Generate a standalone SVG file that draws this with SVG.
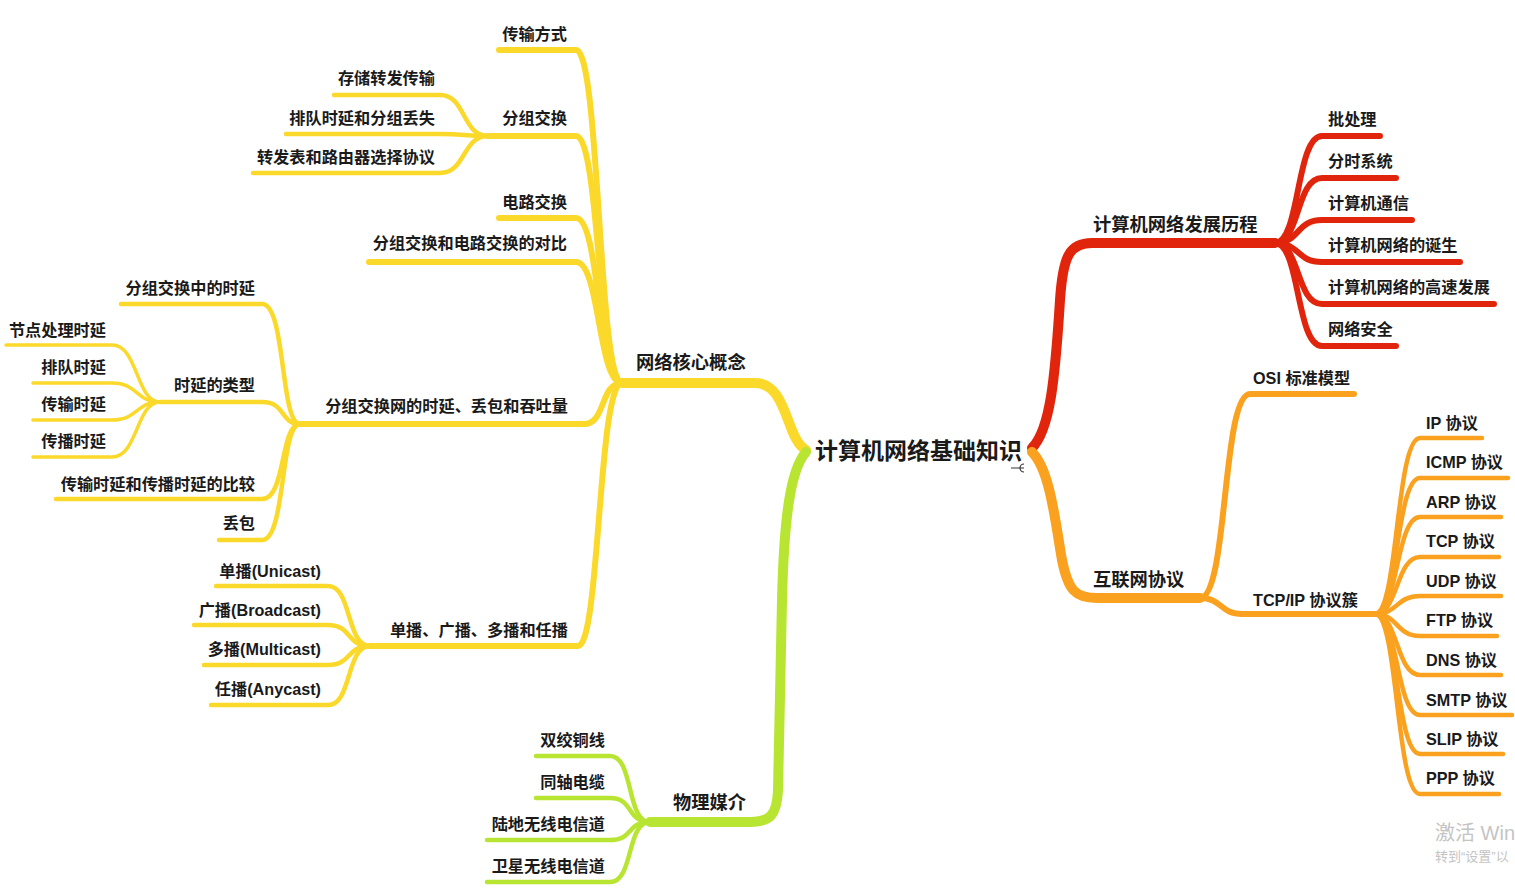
<svg xmlns="http://www.w3.org/2000/svg" width="1515" height="896" viewBox="0 0 1515 896">
<style>
text{font-family:"Liberation Sans","Noto Sans CJK SC",sans-serif;font-weight:bold;fill:#1a1a1a}
.l{text-anchor:end}
.root{font-size:23px}
.t1{font-size:18.3px}
.t2{font-size:16.2px}
.c{fill:none;stroke-linecap:round;stroke-linejoin:round}
.y{stroke:#fbd92a}.g{stroke:#b7e532}.r{stroke:#e0250c}.o{stroke:#faa21f}
.w0{stroke-width:10}.w1{stroke-width:6}.w2{stroke-width:4.5}.w3{stroke-width:3.5}
.wm{font-family:"Liberation Sans","Noto Sans CJK SC",sans-serif;font-weight:normal;fill:#c4c4c4}
</style>
<rect width="1515" height="896" fill="#ffffff"/>
<g id="connectors">
<path class="c y w0" d="M806,450 C786,440 788,383 755,383 H622"/>
<path class="c g w0" d="M806,452 C790,470 784,520 782,600 L778,790 C777,815 770,822 750,822 H650"/>
<path class="c r w0" d="M1032,448 C1050,430 1055,380 1060,300 C1063,255 1070,243 1092,243 H1275"/>
<path class="c o w0" d="M1032,452 C1050,470 1055,520 1062,560 C1068,590 1075,598 1097,598 H1200"/>
<path class="c y w1" d="M622,383 C598,383 600,50 576,50 H499"/>
<path class="c y w1" d="M622,383 C598,383 600,136 576,136 H488"/>
<path class="c y w1" d="M622,383 C598,383 600,218 576,218 H499"/>
<path class="c y w1" d="M622,383 C598,383 600,262 576,262 H369"/>
<path class="c y w1" d="M622,383 C600,383 606,424 584,424 H300"/>
<path class="c y w1" d="M622,383 C598,383 600,646 578,646 H370"/>
<path class="c y w2" d="M488,136 C462,136 466,95 440,95 H334"/>
<path class="c y w2" d="M488,136 C462,136 466,134 440,134 H286"/>
<path class="c y w2" d="M488,136 C462,136 466,173 440,173 H253"/>
<path class="c y w2" d="M300,424 C280,424 286,304 262,304 H121"/>
<path class="c y w2" d="M300,424 C280,424 286,402 262,402 H160"/>
<path class="c y w2" d="M300,424 C280,424 286,499 262,499 H56"/>
<path class="c y w2" d="M300,424 C280,424 286,540 262,540 H219"/>
<path class="c y w3" d="M160,402 C136,402 138,345 112,345 H6"/>
<path class="c y w3" d="M160,402 C136,402 138,383 112,383 H33"/>
<path class="c y w3" d="M160,402 C136,402 138,420 112,420 H33"/>
<path class="c y w3" d="M160,402 C136,402 138,457 112,457 H33"/>
<path class="c y w2" d="M370,646 C346,646 352,586 328,586 H216"/>
<path class="c y w2" d="M370,646 C346,646 352,625 328,625 H194"/>
<path class="c y w2" d="M370,646 C346,646 352,665 328,665 H204"/>
<path class="c y w2" d="M370,646 C346,646 352,705 328,705 H211"/>
<path class="c g w2" d="M650,822 C626,822 634,756 610,756 H536"/>
<path class="c g w2" d="M650,822 C626,822 634,798 610,798 H536"/>
<path class="c g w2" d="M650,822 C626,822 634,840 610,840 H487"/>
<path class="c g w2" d="M650,822 C626,822 634,882 610,882 H487"/>
<path class="c r w1" d="M1275,243 C1300,243 1296,136 1322,136 H1380"/>
<path class="c r w1" d="M1275,243 C1300,243 1296,178 1322,178 H1396"/>
<path class="c r w1" d="M1275,243 C1300,243 1296,220 1322,220 H1412"/>
<path class="c r w1" d="M1275,243 C1300,243 1296,262 1322,262 H1460"/>
<path class="c r w1" d="M1275,243 C1300,243 1296,304 1322,304 H1494"/>
<path class="c r w1" d="M1275,243 C1300,243 1296,346 1322,346 H1396"/>
<path class="c o w1" d="M1200,598 C1228,598 1222,394 1250,394 H1354"/>
<path class="c o w1" d="M1200,598 C1222,598 1220,614 1242,614 H1375"/>
<path class="c o w2" d="M1375,614 C1398,614 1396,438 1420,438 H1482"/>
<path class="c o w2" d="M1375,614 C1398,614 1396,478 1420,478 H1508"/>
<path class="c o w2" d="M1375,614 C1398,614 1396,517 1420,517 H1501"/>
<path class="c o w2" d="M1375,614 C1398,614 1396,557 1420,557 H1499"/>
<path class="c o w2" d="M1375,614 C1398,614 1396,596 1420,596 H1501"/>
<path class="c o w2" d="M1375,614 C1398,614 1396,636 1420,636 H1497"/>
<path class="c o w2" d="M1375,614 C1398,614 1396,675 1420,675 H1501"/>
<path class="c o w2" d="M1375,614 C1398,614 1396,715 1420,715 H1512"/>
<path class="c o w2" d="M1375,614 C1398,614 1396,754 1420,754 H1503"/>
<path class="c o w2" d="M1375,614 C1398,614 1396,794 1420,794 H1499"/>
</g>
<g id="root"><text class="root" x="815" y="459">计算机网络基础知识</text>
<path d="M1011,468 H1018 M1024,464 A4,4 0 1 0 1024,472 M1018,468 H1024" fill="none" stroke="#333" stroke-width="1.2"/></g>
<g id="n-core"><text class="t1" x="636" y="369">网络核心概念</text></g>
<g id="n-trans"><text class="t2 l" x="567" y="40">传输方式</text></g>
<g id="n-packet"><text class="t2 l" x="567" y="124">分组交换</text></g>
<g id="n-store"><text class="t2 l" x="435" y="84">存储转发传输</text></g>
<g id="n-queue-loss"><text class="t2 l" x="435" y="124">排队时延和分组丢失</text></g>
<g id="n-fwd"><text class="t2 l" x="435" y="163">转发表和路由器选择协议</text></g>
<g id="n-circuit"><text class="t2 l" x="567" y="208">电路交换</text></g>
<g id="n-compare"><text class="t2 l" x="567" y="249">分组交换和电路交换的对比</text></g>
<g id="n-delay"><text class="t2 l" x="568" y="412">分组交换网的时延、丢包和吞吐量</text></g>
<g id="n-delay-in"><text class="t2 l" x="255" y="294">分组交换中的时延</text></g>
<g id="n-delay-types"><text class="t2 l" x="255" y="391">时延的类型</text></g>
<g id="n-proc"><text class="t2 l" x="106" y="336">节点处理时延</text></g>
<g id="n-queue"><text class="t2 l" x="106" y="373">排队时延</text></g>
<g id="n-transd"><text class="t2 l" x="106" y="410">传输时延</text></g>
<g id="n-prop"><text class="t2 l" x="106" y="447">传播时延</text></g>
<g id="n-cmp2"><text class="t2 l" x="255" y="490">传输时延和传播时延的比较</text></g>
<g id="n-loss"><text class="t2 l" x="255" y="529">丢包</text></g>
<g id="n-cast"><text class="t2 l" x="568" y="636">单播、广播、多播和任播</text></g>
<g id="n-uni"><text class="t2 l" x="321" y="577">单播(Unicast)</text></g>
<g id="n-broad"><text class="t2 l" x="321" y="616">广播(Broadcast)</text></g>
<g id="n-multi"><text class="t2 l" x="321" y="655">多播(Multicast)</text></g>
<g id="n-any"><text class="t2 l" x="321" y="695">任播(Anycast)</text></g>
<g id="n-media"><text class="t1" x="673" y="809">物理媒介</text></g>
<g id="n-twisted"><text class="t2 l" x="605" y="746">双绞铜线</text></g>
<g id="n-coax"><text class="t2 l" x="605" y="788">同轴电缆</text></g>
<g id="n-terr"><text class="t2 l" x="605" y="830">陆地无线电信道</text></g>
<g id="n-sat"><text class="t2 l" x="605" y="872">卫星无线电信道</text></g>
<g id="n-history"><text class="t1" x="1093" y="231">计算机网络发展历程</text></g>
<g id="n-batch"><text class="t2" x="1328" y="125">批处理</text></g>
<g id="n-timeshare"><text class="t2" x="1328" y="167">分时系统</text></g>
<g id="n-comm"><text class="t2" x="1328" y="209">计算机通信</text></g>
<g id="n-birth"><text class="t2" x="1328" y="251">计算机网络的诞生</text></g>
<g id="n-fast"><text class="t2" x="1328" y="293">计算机网络的高速发展</text></g>
<g id="n-sec"><text class="t2" x="1328" y="335">网络安全</text></g>
<g id="n-proto"><text class="t1" x="1093" y="586">互联网协议</text></g>
<g id="n-osi"><text class="t2" x="1253" y="384">OSI 标准模型</text></g>
<g id="n-tcpip"><text class="t2" x="1253" y="606">TCP/IP 协议簇</text></g>
<g id="n-ip"><text class="t2" x="1426" y="429">IP 协议</text></g>
<g id="n-icmp"><text class="t2" x="1426" y="468">ICMP 协议</text></g>
<g id="n-arp"><text class="t2" x="1426" y="508">ARP 协议</text></g>
<g id="n-tcp"><text class="t2" x="1426" y="547">TCP 协议</text></g>
<g id="n-udp"><text class="t2" x="1426" y="587">UDP 协议</text></g>
<g id="n-ftp"><text class="t2" x="1426" y="626">FTP 协议</text></g>
<g id="n-dns"><text class="t2" x="1426" y="666">DNS 协议</text></g>
<g id="n-smtp"><text class="t2" x="1426" y="706">SMTP 协议</text></g>
<g id="n-slip"><text class="t2" x="1426" y="745">SLIP 协议</text></g>
<g id="n-ppp"><text class="t2" x="1426" y="784">PPP 协议</text></g>
<g id="watermark">
<text class="wm" x="1435" y="840" font-size="20">激活 Win</text>
<text class="wm" x="1435" y="861" font-size="13">转到“设置”以</text>
</g>
</svg>
